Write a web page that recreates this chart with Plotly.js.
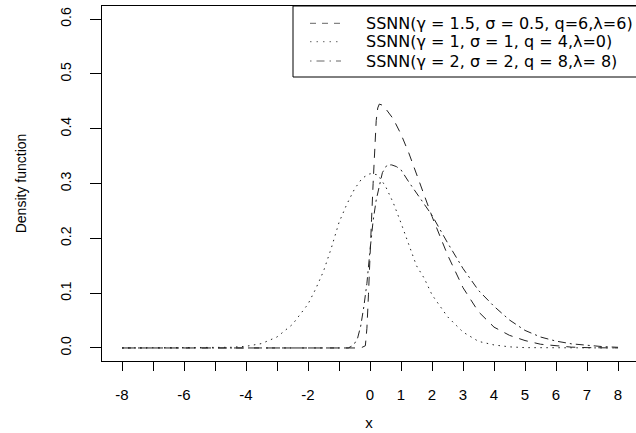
<!DOCTYPE html>
<html>
<head>
<meta charset="utf-8">
<script src="https://cdn.plot.ly/plotly-3.0.1.min.js"></script>
<style>
html,body{margin:0;padding:0;background:#fff;overflow:hidden;}
#chart{width:636px;height:433px;}
</style>
</head>
<body>
<div id="chart"></div>
<script>
// Series names
var seriesNames = [
  "SSNN(\u03b3 = 1.5, \u03c3 = 0.5, q=6,\u03bb=6)",
  "SSNN(\u03b3 = 1, \u03c3 = 1, q = 4,\u03bb=0)",
  "SSNN(\u03b3 = 2, \u03c3 = 2, q = 8,\u03bb= 8)"
];

// Series 1 (dashed)
var x1 = [-8, -4, -1, -0.3, -0.15, -0.1, -0.05, 0, 0.05, 0.1, 0.15, 0.2, 0.25, 0.3, 0.4, 0.5, 0.75, 1, 1.25, 1.5, 1.75, 2, 2.5, 3, 3.5, 4, 4.5, 5, 5.5, 6, 6.5, 7, 8];
var y1 = [0, 0, 0, 0, 0.004, 0.036, 0.097, 0.155, 0.235, 0.3, 0.37, 0.415, 0.438, 0.445, 0.443, 0.437, 0.418, 0.39, 0.356, 0.316, 0.278, 0.24, 0.17, 0.11, 0.066, 0.038, 0.023, 0.0135, 0.0068, 0.0035, 0.0015, 0.0006, 0];

// Series 2 (dotted)
var x2 = [-8, -5, -4.5, -4, -3.5, -3, -2.5, -2, -1.75, -1.5, -1.25, -1, -0.75, -0.5, -0.25, 0, 0.25, 0.5, 0.75, 1, 1.25, 1.5, 1.75, 2, 2.5, 3, 3.5, 4, 4.5, 5, 8];
var y2 = [0, 0.0004, 0.0012, 0.003, 0.008, 0.02, 0.043, 0.08, 0.108, 0.14, 0.182, 0.229, 0.262, 0.29, 0.31, 0.318, 0.316, 0.295, 0.265, 0.228, 0.19, 0.15, 0.127, 0.097, 0.057, 0.029, 0.012, 0.0055, 0.002, 0.0006, 0];

// Series 3 (dash-dot)
var x3 = [-8, -4, -1, -0.7, -0.6, -0.5, -0.4, -0.3, -0.2, -0.1, 0, 0.1, 0.2, 0.3, 0.4, 0.55, 0.7, 0.85, 1, 1.25, 1.5, 1.75, 2, 2.5, 3, 3.5, 4, 4.5, 5, 5.5, 6, 6.5, 7, 7.5, 8];
var y3 = [0, 0, 0, 0, 0.003, 0.008, 0.018, 0.04, 0.075, 0.118, 0.178, 0.232, 0.27, 0.298, 0.32, 0.334, 0.334, 0.331, 0.325, 0.303, 0.282, 0.262, 0.242, 0.192, 0.145, 0.105, 0.076, 0.051, 0.032, 0.02, 0.0125, 0.0075, 0.0045, 0.0025, 0.0012];

// Axis ticks
var xTickVals = [-8, -7, -6, -5, -4, -3, -2, -1, 0, 1, 2, 3, 4, 5, 6, 7, 8];
var xTickText = ["-8", "", "-6", "", "-4", "", "-2", "", "0", "1", "2", "3", "4", "5", "6", "7", "8"];
var yTickVals = [0, 0.1, 0.2, 0.3, 0.4, 0.5, 0.6];
var yTickText = ["0.0", "0.1", "0.2", "0.3", "0.4", "0.5", "0.6"];

var FONT = "Liberation Sans, Arial, Helvetica, sans-serif";
var LEGFONT = "DejaVu Sans, Liberation Sans, sans-serif";
var lineColor = "#222";
var dashes = ["9px,7px", "1.5px,4.5px", "2px,4px,8px,4px"];
var legendDashes = ["6px,6px", "1.5px,5px", "1.5px,5px,8px,5px"];

var traces = [x1, x2, x3].map(function (xs, i) {
  var ys = [y1, y2, y3][i];
  return {x: xs, y: ys, name: seriesNames[i], mode: "lines", showlegend: false,
          line: {color: lineColor, width: 1, dash: dashes[i]}};
});

// Legend geometry (pixels -> paper)
var L = 102, T = 6, PW = 534, PH = 355;
function px(v) { return (v - L) / PW; }
function py(v) { return (T + PH - v) / PH; }
var rowY = [23.3, 41.7, 61];

var shapes = [{
  type: "rect", xref: "paper", yref: "paper",
  x0: px(293), x1: px(645), y0: py(77), y1: py(6),
  line: {color: "#000", width: 1}, fillcolor: "#fff", layer: "above"
}];
var annotations = [];
for (var i = 0; i < 3; i++) {
  shapes.push({
    type: "line", xref: "paper", yref: "paper",
    x0: px(310), x1: px(341), y0: py(rowY[i]), y1: py(rowY[i]),
    line: {color: "#666", width: 1, dash: legendDashes[i]}, layer: "above"
  });
  annotations.push({
    xref: "paper", yref: "paper", x: px(364), y: py(rowY[i]),
    xanchor: "left", yanchor: "middle", showarrow: false,
    text: seriesNames[i], font: {family: LEGFONT, size: 16, color: "#000"}
  });
}

var layout = {
  width: 636, height: 433,
  margin: {l: L, r: 0, t: T, b: 433 - T - PH, pad: 0},
  paper_bgcolor: "#fff", plot_bgcolor: "#fff",
  font: {family: FONT, size: 14, color: "#000"},
  showlegend: false,
  shapes: shapes,
  annotations: annotations,
  xaxis: {
    range: [-8.645, 8.58], tickmode: "array", tickvals: xTickVals, ticktext: xTickText,
    ticks: "outside", ticklen: 9, tickwidth: 1, tickcolor: "#000", ticklabelstandoff: 11,
    showline: true, linecolor: "#000", linewidth: 1, mirror: true,
    showgrid: false, zeroline: false,
    tickfont: {family: FONT, size: 15, color: "#000"},
    title: {text: "x", font: {family: FONT, size: 15, color: "#000"}, standoff: 15}
  },
  yaxis: {
    range: [-0.0238, 0.624], tickmode: "array", tickvals: yTickVals, ticktext: yTickText,
    ticks: "outside", ticklen: 11, tickwidth: 1, tickcolor: "#000", tickangle: -90,
    ticklabelstandoff: 13,
    showline: true, linecolor: "#000", linewidth: 1, mirror: false,
    showgrid: false, zeroline: false,
    tickfont: {family: FONT, size: 14, color: "#000"},
    title: {text: "Density function", font: {family: FONT, size: 14, color: "#000"}, standoff: 28}
  }
};

Plotly.newPlot("chart", traces, layout, {displayModeBar: false, staticPlot: true});
</script>
</body>
</html>
